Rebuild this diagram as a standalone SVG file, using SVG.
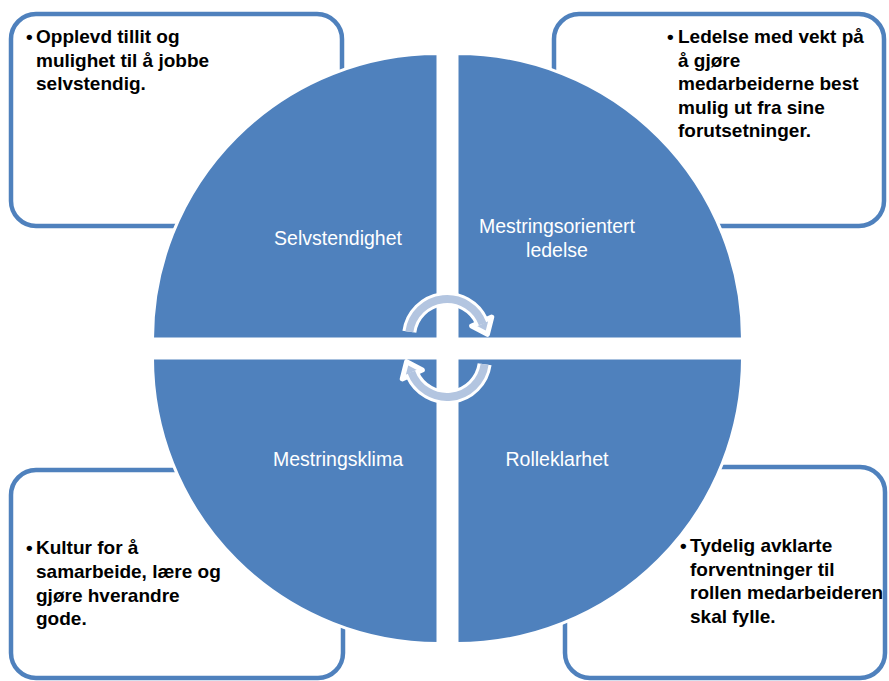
<svg xmlns="http://www.w3.org/2000/svg" width="889" height="681" viewBox="0 0 889 681">
  <style>
    .box { fill: #ffffff; stroke: #4f81bd; stroke-width: 4.5; }
    .quad { fill: #4f81bd; stroke: #ffffff; stroke-width: 3; }
    .qlabel { font-family: "Liberation Sans", Arial, sans-serif; font-size: 19.5px; fill: #ffffff; text-anchor: middle; }
    .note { font-family: "Liberation Sans", Arial, sans-serif; font-size: 19px; font-weight: bold; fill: #000000; }
    .arc-edge { fill: none; stroke: #ffffff; stroke-width: 14; }
    .arc-core { fill: none; stroke: #b3c5e0; stroke-width: 8; }
    .head { fill: #b3c5e0; stroke: #ffffff; stroke-width: 5; stroke-linejoin: round; }
  </style>

  <rect width="889" height="681" fill="#ffffff"/>

  <!-- text boxes in the four corners (drawn under the circle) -->
  <g id="box-selvstendighet">
    <rect class="box" x="11" y="14" width="331" height="212" rx="25" ry="25"/>
    <text class="note" x="26" y="43">•</text>
    <text class="note" x="36" y="43">
      <tspan x="36" y="43">Opplevd tillit og</tspan>
      <tspan x="36" y="66.5">mulighet til å jobbe</tspan>
      <tspan x="36" y="90">selvstendig.</tspan>
    </text>
  </g>

  <g id="box-ledelse">
    <rect class="box" x="554" y="14" width="330" height="212" rx="25" ry="25"/>
    <text class="note" x="667" y="43">•</text>
    <text class="note">
      <tspan x="678" y="43">Ledelse med vekt på</tspan>
      <tspan x="678" y="66.5">å gjøre</tspan>
      <tspan x="678" y="90">medarbeiderne best</tspan>
      <tspan x="678" y="113.5">mulig ut fra sine</tspan>
      <tspan x="678" y="137">forutsetninger.</tspan>
    </text>
  </g>

  <g id="box-mestringsklima">
    <rect class="box" x="11" y="470" width="332" height="208" rx="25" ry="25"/>
    <text class="note" x="26" y="554">•</text>
    <text class="note">
      <tspan x="36" y="554">Kultur for å</tspan>
      <tspan x="36" y="578">samarbeide, lære og</tspan>
      <tspan x="36" y="601.5">gjøre hverandre</tspan>
      <tspan x="36" y="625">gode.</tspan>
    </text>
  </g>

  <g id="box-rolleklarhet">
    <rect class="box" x="565" y="467" width="320" height="211" rx="25" ry="25"/>
    <text class="note" x="680" y="552">•</text>
    <text class="note">
      <tspan x="690" y="552">Tydelig avklarte</tspan>
      <tspan x="690" y="575.5">forventninger til</tspan>
      <tspan x="690" y="599">rollen medarbeideren</tspan>
      <tspan x="690" y="622.5">skal fylle.</tspan>
    </text>
  </g>

  <!-- circle split into four quadrants -->
  <g id="quad-selvstendighet">
    <path class="quad" d="M438,339 L152.5,339 A285.5,285.5 0 0 1 438,53.5 Z"/>
    <text class="qlabel" x="338" y="245">Selvstendighet</text>
  </g>
  <g id="quad-ledelse">
    <path class="quad" d="M457,339 L457,53.5 A285.5,285.5 0 0 1 742.5,339 Z"/>
    <text class="qlabel" x="557" y="233">Mestringsorientert</text>
    <text class="qlabel" x="557" y="257">ledelse</text>
  </g>
  <g id="quad-rolleklarhet">
    <path class="quad" d="M457,358 L742.5,358 A285.5,285.5 0 0 1 457,643.5 Z"/>
    <text class="qlabel" x="557" y="466">Rolleklarhet</text>
  </g>
  <g id="quad-mestringsklima">
    <path class="quad" d="M438,358 L438,643.5 A285.5,285.5 0 0 1 152.5,358 Z"/>
    <text class="qlabel" x="338" y="466">Mestringsklima</text>
  </g>

  <!-- cycle arrows in the centre -->
  <g id="connectors">
    <g id="arrow-top">
      <path class="arc-edge" d="M409.37,331.71 A38,38 0 0 1 481.71,321.54"/>
      <polygon class="head" points="491.76,317.06 471.66,326.02 487.4,334.3"/>
      <path class="arc-core" d="M409.37,331.71 A38,38 0 0 1 482.71,324.0"/>
    </g>
    <g id="arrow-bottom">
      <path class="arc-edge" d="M484.63,364.29 A38,38 0 0 1 412.29,374.46"/>
      <polygon class="head" points="402.24,378.94 422.34,369.98 406.6,361.7"/>
      <path class="arc-core" d="M484.63,364.29 A38,38 0 0 1 411.29,372.0"/>
    </g>
  </g>
</svg>
